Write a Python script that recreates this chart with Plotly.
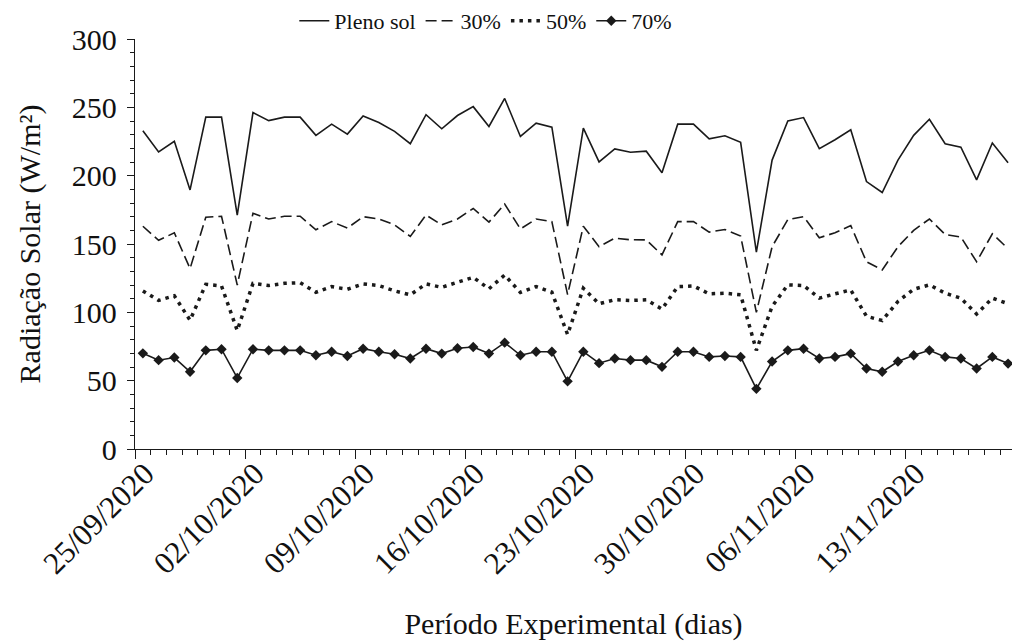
import plotly.graph_objects as go
import pandas as pd

start_date = "2020-09-25"
n_days = 56
dates = pd.date_range(start_date, periods=n_days, freq="D") + pd.Timedelta(hours=12)

pleno_sol = [232.8, 217.4, 225.1, 189.6, 242.8, 242.8, 171.2, 246.2, 240.3, 242.8,
             242.8, 229.5, 237.7, 230.4, 243.7, 238.9, 232.4, 223.4, 244.6, 234.3,
             244.0, 250.5, 236.0, 256.5, 228.7, 238.4, 235.5, 163.0, 234.8, 210.1,
             219.6, 217.1, 217.9, 202.2, 237.7, 237.7, 227.0, 229.2, 224.4, 144.0,
             211.4, 240.1, 242.5, 219.8, 226.3, 233.6, 195.7, 187.7, 211.4, 229.5,
             241.3, 223.4, 220.8, 196.9, 223.9, 209.4]

sombra_30 = [163.0, 152.7, 158.2, 132.0, 169.6, 170.3, 120.0, 172.5, 168.3, 170.3,
             170.3, 160.4, 166.4, 161.6, 170.0, 168.3, 164.0, 155.6, 171.2, 164.0,
             168.3, 176.0, 166.0, 179.2, 161.0, 168.3, 166.4, 113.0, 163.0, 148.0,
             154.3, 153.1, 153.0, 142.0, 166.4, 166.4, 158.7, 160.6, 155.8, 100.0,
             148.0, 167.9, 170.0, 154.6, 158.2, 163.5, 137.0, 131.0, 148.0, 160.0,
             168.3, 157.0, 155.1, 137.0, 157.5, 146.6]

sombra_50 = [115.7, 108.7, 112.1, 94.2, 120.5, 119.3, 86.7, 121.2, 119.6, 121.2,
             121.7, 114.7, 118.8, 116.9, 120.8, 119.6, 115.7, 112.8, 120.8, 118.3,
             122.0, 125.6, 117.2, 127.3, 114.5, 118.8, 114.7, 83.8, 117.6, 106.3,
             109.2, 108.7, 109.2, 102.4, 118.8, 119.3, 113.5, 114.0, 112.8, 72.2,
             104.3, 120.1, 119.6, 110.4, 113.5, 116.4, 97.1, 94.0, 108.0, 116.9,
             120.1, 114.0, 110.4, 98.8, 110.4, 106.3]

sombra_70 = [70.0, 65.0, 66.9, 56.5, 72.2, 73.0, 52.0, 73.0, 72.2, 72.2,
             72.2, 68.6, 71.2, 68.1, 73.4, 71.2, 69.3, 66.2, 73.4, 69.8,
             73.7, 74.6, 69.8, 77.8, 68.6, 71.2, 71.2, 49.5, 71.2, 62.8,
             66.2, 65.0, 65.0, 60.1, 71.2, 71.2, 67.4, 68.1, 67.4, 44.0,
             64.0, 72.2, 73.4, 66.2, 67.4, 69.8, 58.9, 56.5, 64.0, 68.6,
             72.2, 67.4, 66.2, 58.9, 67.4, 62.5]

series_names = ["Pleno sol", "30%", "50%", "70%"]

INK = "#1a1a1a"
FONT = "'Liberation Serif', 'Times New Roman', Times, 'DejaVu Serif', serif"

fig = go.Figure()
fig.add_trace(go.Scatter(x=dates, y=pleno_sol, name=series_names[0], mode="lines",
                         line=dict(color=INK, width=1.6)))
fig.add_trace(go.Scatter(x=dates, y=sombra_30, name=series_names[1], mode="lines",
                         line=dict(color=INK, width=1.6, dash="11px,5px")))
fig.add_trace(go.Scatter(x=dates, y=sombra_50, name=series_names[2], mode="lines",
                         line=dict(color=INK, width=3.5, dash="3.5px,5px")))
fig.add_trace(go.Scatter(x=dates, y=sombra_70, name=series_names[3], mode="lines+markers",
                         line=dict(color=INK, width=1.6),
                         marker=dict(symbol="diamond", size=8, color=INK)))

x0 = pd.Timestamp(start_date)
x1 = x0 + pd.Timedelta(days=55.75)

fig.update_layout(
    template="none",
    width=1012, height=641,
    margin=dict(l=135, r=0, t=35, b=192),
    paper_bgcolor="white", plot_bgcolor="white",
    font=dict(family=FONT, size=21, color="#111"),
    showlegend=True,
    legend=dict(orientation="h", x=0.4, xanchor="center", y=1.045, yanchor="middle",
                font=dict(family=FONT, size=22), bgcolor="rgba(0,0,0,0)",
                tracegroupgap=0),
)

fig.update_xaxes(
    type="date", range=[x0, x1], automargin=False,
    tick0=x0, dtick=7 * 86400000, tickformat="%d/%m/%Y",
    tickangle=-45, ticks="outside", ticklen=9, tickwidth=1.3, tickcolor=INK,
    ticklabelstandoff=-16, ticklabelshift=10,
    showline=True, linecolor=INK, linewidth=1.3, showgrid=False, zeroline=False,
    minor=dict(tick0=x0, dtick=86400000, ticks="outside", ticklen=5,
               tickwidth=1.2, tickcolor=INK, showgrid=False),
    tickfont=dict(family=FONT, size=31, color="#111"),
    title=dict(text="Período Experimental (dias)", font=dict(family=FONT, size=30),
               standoff=36),
)

fig.update_yaxes(
    range=[0, 300], dtick=50, automargin=False,
    ticks="outside", ticklen=7, tickwidth=1.3, tickcolor=INK,
    ticklabelstandoff=4,
    showline=True, linecolor=INK, linewidth=1.3, showgrid=False, zeroline=False,
    minor=dict(dtick=10, ticks="outside", ticklen=4, tickwidth=1.2, tickcolor=INK,
               showgrid=False),
    tickfont=dict(family=FONT, size=30, color="#111"),
    title=dict(text="Radiação Solar (W/m²)", font=dict(family=FONT, size=30),
               standoff=22),
)

fig.write_html("out.html")
